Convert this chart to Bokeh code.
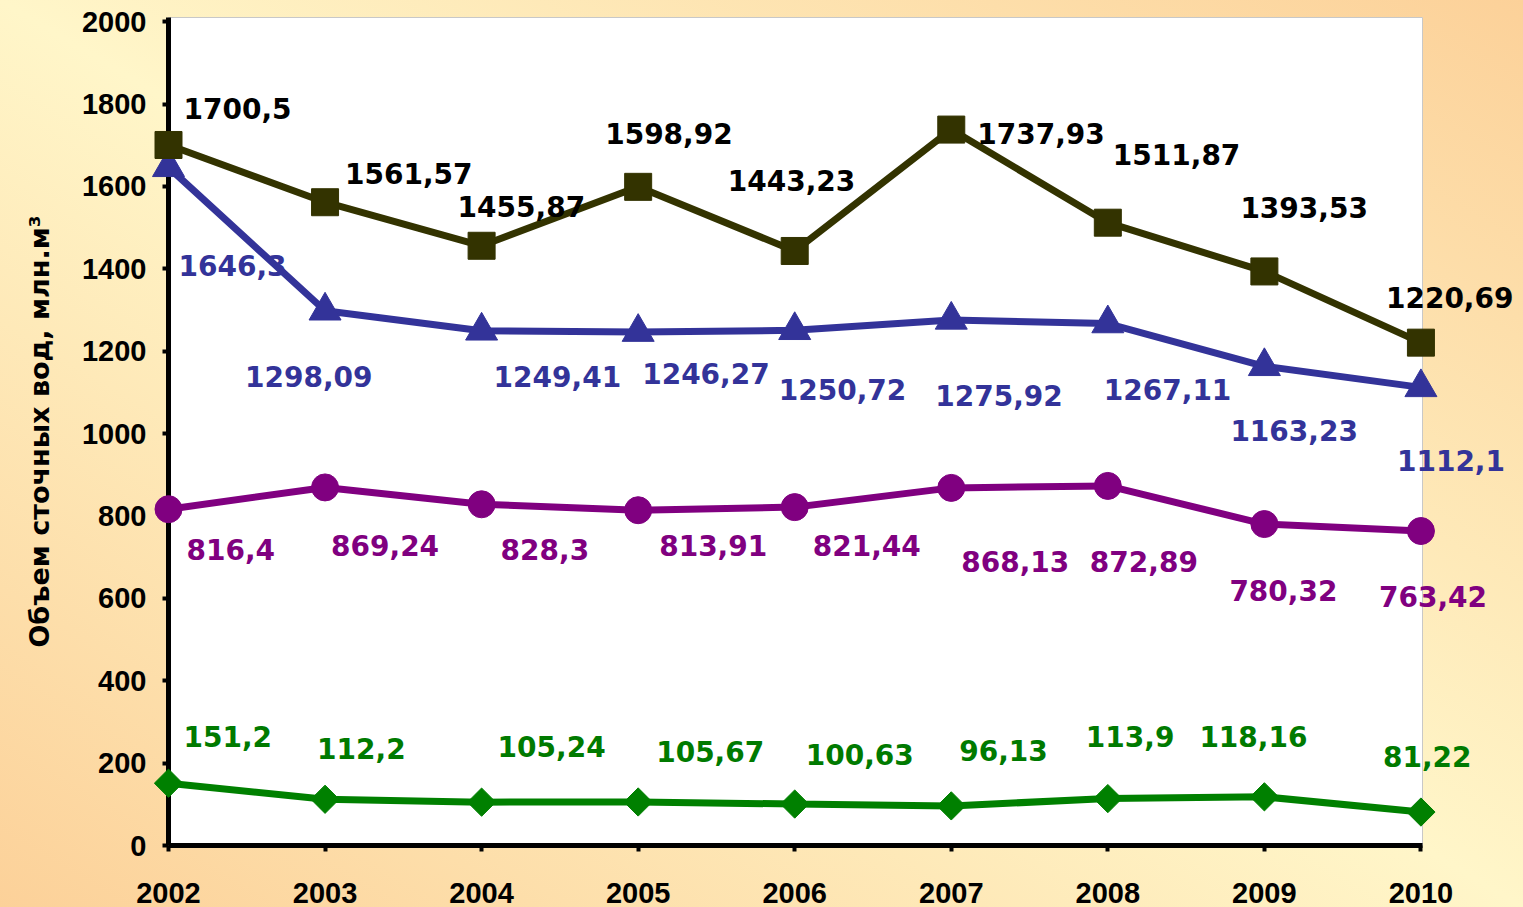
from bokeh.plotting import figure
from bokeh.models import ColumnDataSource, FixedTicker, Range1d
from bokeh.core.properties import value
from bokeh.embed import file_html
from bokeh.resources import INLINE

# Wastewater volume by year, million m³
years = [2002, 2003, 2004, 2005, 2006, 2007, 2008, 2009, 2010]
dark_values = [1700.5, 1561.57, 1455.87, 1598.92, 1443.23, 1737.93, 1511.87, 1393.53, 1220.69]
blue_values = [1646.3, 1298.09, 1249.41, 1246.27, 1250.72, 1275.92, 1267.11, 1163.23, 1112.1]
purple_values = [816.4, 869.24, 828.3, 813.91, 821.44, 868.13, 872.89, 780.32, 763.42]
green_values = [151.2, 112.2, 105.24, 105.67, 100.63, 96.13, 113.9, 118.16, 81.22]
y_ticks = [0, 200, 400, 600, 800, 1000, 1200, 1400, 1600, 1800, 2000]

# Pixel offsets of each value label from its point (left edge, vertical centre)
dark_dx = [15, 20, -24, -33, -67, 26, 5, -24, -35]
dark_dy = [-36, -29, -39, -53, -70, 4, -68, -64, -45]
blue_dx = [10, -80, 12, 4, -16, -16, -4, -34, -24]
blue_dy = [98, 66, 46, 41, 59, 76, 66, 64, 73]
purple_dx = [18, 6, 19, 21, 18, 10, -18, -35, -42]
purple_dy = [40, 58, 45, 35, 38, 74, 76, 66, 65]
green_dx = [15, -8, 16, 18, 11, 8, -22, -65, -38]
green_dy = [-47, -51, -56, -50, -50, -55, -62, -60, -56]

LABEL_FONT = value("DejaVu Sans")
TICK_FONT = "Liberation Sans"

p = figure(
    width=1523, height=907,
    output_backend="svg", toolbar_location=None,
    x_range=Range1d(2002, 2010.01), y_range=Range1d(0, 2010),
    min_border_left=168, min_border_right=101,
    min_border_top=17, min_border_bottom=62,
)
p.styles = {
    "background": "linear-gradient(to top right, #fcd199 0%, #fff6c9 50%, #fcd199 100%)",
}
p.border_fill_alpha = 0
p.background_fill_color = "white"
p.outline_line_color = "#c8c8c8"
p.outline_line_width = 1
p.xgrid.visible = False
p.ygrid.visible = False

for ax in (p.xaxis[0], p.yaxis[0]):
    ax.axis_line_color = "black"
    ax.axis_line_width = 5
    ax.major_tick_line_color = "black"
    ax.major_tick_line_width = 4
    ax.major_tick_out = 6
    ax.major_tick_in = 0
    ax.minor_tick_line_color = None
    ax.major_label_text_font = TICK_FONT
    ax.major_label_text_font_style = "bold"
    ax.major_label_text_font_size = "29px"
    ax.major_label_text_color = "black"

p.xaxis.ticker = FixedTicker(ticks=years)
p.xaxis.major_label_standoff = 31
p.xaxis.major_label_text_line_height = 0.7
p.yaxis.ticker = FixedTicker(ticks=y_ticks)
p.yaxis.major_label_standoff = 16
p.yaxis.axis_label = "Объем сточных вод, млн.м³"
p.yaxis.axis_label_text_font = "DejaVu Sans"
p.yaxis.axis_label_text_font_style = "bold"
p.yaxis.axis_label_text_font_size = "27px"
p.yaxis.axis_label_text_color = "black"
p.yaxis.axis_label_standoff = 24


def fmt(v):
    return str(v).replace(".", ",")


def draw_series(vals, dx, dy, color, label_color, marker, size, angle=0.0):
    src = ColumnDataSource(dict(
        x=years, y=vals, label=[fmt(v) for v in vals], dx=dx, dy=dy,
    ))
    p.line("x", "y", source=src, line_color=color, line_width=7, level="overlay")
    p.scatter("x", "y", source=src, marker=marker, size=size, angle=angle,
              fill_color=color, line_color=color, level="overlay")
    p.text("x", "y", text="label", source=src, x_offset="dx", y_offset="dy",
           text_font=LABEL_FONT, text_font_style="bold", text_font_size="28px",
           text_color=label_color, text_align="left", text_baseline="middle",
           level="overlay")


draw_series(green_values, green_dx, green_dy, "#008000", "#007a00", "square", 20, 0.785398)
draw_series(purple_values, purple_dx, purple_dy, "#800080", "#800080", "circle", 27)
draw_series(blue_values, blue_dx, blue_dy, "#333399", "#333399", "triangle", 32)
draw_series(dark_values, dark_dx, dark_dy, "#333300", "#000000", "square", 27)

open("out.html", "w").write(file_html(p, INLINE))
